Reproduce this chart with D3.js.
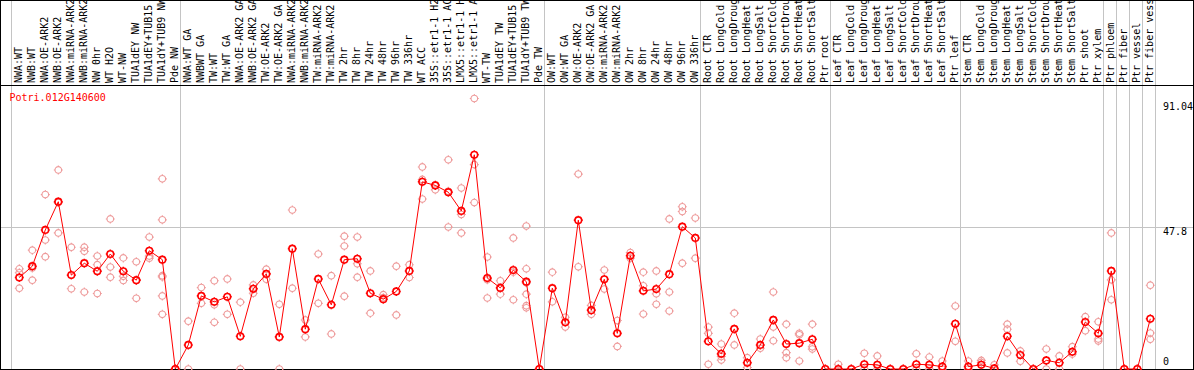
<!DOCTYPE html>
<html>
<head>
<meta charset="utf-8">
<script src="https://cdn.jsdelivr.net/npm/d3@7"></script>
<style>
  body { margin: 0; background: #fff; }
  svg { display: block; }
  text { font-family: "DejaVu Sans Mono", "Liberation Mono", monospace; font-size: 10px; }
</style>
</head>
<body>
<svg id="chart"></svg>
<script>
const geneId = "Potri.012G140600";

const labels = [
  "NWA:WT", "NWB:WT", "NWA:OE-ARK2", "NWB:OE-ARK2", "NWA:miRNA-ARK2", "NWB:miRNA-ARK2",
  "NW 0hr", "WT H2O", "WT-NW", "TUA1dEY NW", "TUA1dEY+TUB15 NW", "TUA1dY+TUB9 NW", "Pde NW",
  "NWA:WT GA", "NWBWT GA", "TW:WT", "TW:WT GA", "NWA:OE-ARK2 GA", "NWB:OE-ARK2 GA",
  "TW:OE-ARK2", "TW:OE-ARK2 GA", "NWA:miRNA-ARK2", "NWB:miRNA-ARK2", "TW:miRNA-ARK2",
  "TW:miRNA-ARK2", "TW 2hr", "TW 8hr", "TW 24hr", "TW 48hr", "TW 96hr", "TW 336hr", "WT ACC",
  "35S::etr1-1 H2O", "35S::etr1-1 ACC", "LMX5::etr1-1 H2O", "LMX5::etr1-1 ACC", "WT-TW",
  "TUA1dEY TW", "TUA1dEY+TUB15 TW", "TUA1dY+TUB9 TW", "Pde TW",
  "OW:WT", "OW:WT GA", "OW:OE-ARK2", "OW:OE-ARK2 GA", "OW:miRNA-ARK2", "OW:miRNA-ARK2",
  "OW 2hr", "OW 8hr", "OW 24hr", "OW 48hr", "OW 96hr", "OW 336hr",
  "Root CTR", "Root LongCold", "Root LongDrought", "Root LongHeat", "Root LongSalt",
  "Root ShortCold", "Root ShortDrought", "Root ShortHeat", "Root ShortSalt", "Ptr root",
  "Leaf CTR", "Leaf LongCold", "Leaf LongDrought", "Leaf LongHeat", "Leaf LongSalt",
  "Leaf ShortCold", "Leaf ShortDrought", "Leaf ShortHeat", "Leaf ShortSalt", "Ptr leaf",
  "Stem CTR", "Stem LongCold", "Stem LongDrought", "Stem LongHeat", "Stem LongSalt",
  "Stem ShortCold", "Stem ShortDrought", "Stem ShortHeat", "Stem ShortSalt", "Ptr shoot",
  "Ptr xylem", "Ptr phloem", "Ptr fiber", "Ptr vessel", "Ptr fiber vessel"
];

// column indices where a separator line is drawn (left edge of the column)
const separators = [0, 13, 41, 53, 63, 73, 84, 85, 86, 87, 88];

const means = [
  30.8, 34.6, 46.8, 56.3, 31.6, 35.6, 32.9, 38.7, 32.9, 29.9, 39.8, 36.8, 0,
  8.1, 24.6, 22.6, 24.3, 11.0, 27.0, 32.0, 10.8, 40.5, 13.4, 30.3, 21.6, 36.8, 37.1,
  25.5, 23.5, 26.1, 33.0, 63.0, 61.8, 59.5, 53.2, 72.1, 30.6, 27.3, 33.3, 29.4, 0,
  27.2, 15.7, 50.1, 19.8, 30.2, 12.0, 38.1, 26.3, 26.9, 31.9, 47.9, 44.1,
  9.3, 5.1, 13.5, 2.1, 8.1, 16.5, 8.4, 8.7, 10.0, 0,
  0, 0, 1.6, 1.4, 0, 0, 1.6, 1.4, 0.8, 15.2,
  0.8, 1.4, 0.2, 11.0, 4.7, 0, 2.9, 2.1, 5.8, 15.8, 12.0, 33.0, 0, 0, 16.9
];

const replicates = [
  [33.7, 32.4, 27.2], [40.0, 34.0, 29.9], [58.7, 43.4, 37.8], [67.0, 56.0, 45.8],
  [41.0, 27.0], [41.0, 39.6, 25.9], [38.0, 35.1, 33.0, 25.4], [50.5, 34.3, 30.9],
  [37.4, 31.2, 29.8], [36.1, 29.9, 23.8], [44.4, 38.0, 37.3],
  [64.0, 50.2, 31.4, 31.0, 24.6, 18.4], [0, 0],
  [16.1, 0], [27.4, 22.1], [29.7, 21.6, 15.7], [30.3, 18.4], [22.5, 0], [28.3, 25.5],
  [33.6, 30.2], [21.8, 0], [53.5, 27.2], [16.5, 10.8], [38.7, 22.1], [31.4, 11.8],
  [44.7, 41.4, 24.5], [44.4, 35.4, 30.9], [33.0, 18.8], [25.0, 24.0], [34.6, 18.2],
  [35.1, 30.8], [68.0, 63.8, 57.2], [62.0, 60.3], [70.4, 59.8, 47.8], [60.9, 52.0, 45.8],
  [91.04, 68.8, 56.0], [37.7, 30.0, 23.9], [29.7, 25.2], [44.1, 32.6, 23.3],
  [48.1, 33.7, 29.0, 25.2, 21.3, 20.6], [0],
  [32.6, 22.6], [17.4, 14.1], [65.6, 34.4], [21.4, 18.4], [33.3, 26.9], [16.3, 7.6],
  [39.2, 37.3], [32.6, 28.0, 18.5], [33.0, 25.3, 21.8], [50.5, 25.9, 19.5],
  [54.6, 53.0, 35.6], [50.8, 37.3],
  [14.1, 12.0, 1.6], [8.4, 4.2, 3.0], [18.8, 8.1], [3.8, 0.5], [10.1, 7.0],
  [25.9, 14.1, 9.5], [15.1, 5.5, 3.8], [12.0, 11.5, 2.7], [15.1, 7.5, 6.7], [0],
  [1.6, 0], [0], [5.3, 0], [4.4, 0], [0], [0], [5.1, 0], [4.0, 0], [2.7, 0], [21.2, 9.3],
  [2.7, 0], [2.9, 2.2], [1.4], [15.1, 13.4, 5.4], [6.1, 2.6], [0], [6.7, 0], [4.4, 0],
  [7.5, 5.0], [17.6, 12.9], [15.9, 10.1, 9.4], [45.8, 30.0, 23.3], [0], [0], [28.2, 12.1, 10.0]
];

const yTicks = [91.04, 47.8, 0];
const gridValues = [47.8];

const width = 1194, height = 370;
const headerH = 85.5;
const colStep = 13;

const svg = d3.select("#chart").attr("width", width).attr("height", height);

const x = d3.scaleLinear().domain([0, labels.length - 1]).range([19.3, 19.3 + colStep * (labels.length - 1)]);
const y = d3.scaleLinear().domain([0, 91.04]).range([369, 98.5]);

// circle with four small ticks, like the original markers
const marker = (r, t) =>
  d3.path().toString() +
  `M${r},0A${r},${r} 0 1,1 ${-r},0A${r},${r} 0 1,1 ${r},0` +
  `M0,${-r}V${-r - t}M0,${r}V${r + t}M${-r},0H${-r - t}M${r},0H${r + t}`;

// separators
svg.append("g")
  .selectAll("line")
  .data(separators)
  .enter()
  .append("line")
  .attr("x1", (d) => Math.round(x(d) - 8.6) + 0.5)
  .attr("x2", (d) => Math.round(x(d) - 8.6) + 0.5)
  .attr("y1", 0)
  .attr("y2", height)
  .attr("stroke", "#c4c4c4")
  .attr("stroke-width", 1);

// horizontal grid
svg.append("g")
  .selectAll("line")
  .data(gridValues)
  .enter()
  .append("line")
  .attr("x1", 0)
  .attr("x2", width)
  .attr("y1", (d) => Math.round(y(d)) + 0.5)
  .attr("y2", (d) => Math.round(y(d)) + 0.5)
  .attr("stroke", "#c4c4c4");

// column labels
svg.append("g")
  .selectAll("text")
  .data(labels)
  .enter()
  .append("text")
  .attr("transform", (d, i) => `translate(${x(i) + 2.6},83) rotate(-90)`)
  .attr("fill", "#000")
  .text((d) => d);

// frame + header line
svg.append("rect")
  .attr("x", 0.5).attr("y", 0.5)
  .attr("width", width - 1).attr("height", height - 1)
  .attr("fill", "none").attr("stroke", "#000");
svg.append("line")
  .attr("x1", 0).attr("x2", width)
  .attr("y1", headerH).attr("y2", headerH)
  .attr("stroke", "#000");

// right axis labels
svg.append("g")
  .selectAll("text")
  .data(yTicks)
  .enter()
  .append("text")
  .attr("x", 1163)
  .attr("y", (d) => (d === 0 ? y(d) - 4 : y(d) + (d === 47.8 ? 8 : 11)))
  .attr("fill", "#000")
  .text((d) => d);

// title
svg.append("text")
  .attr("x", 9.5)
  .attr("y", 101)
  .attr("fill", "#f00")
  .text(geneId);

// replicate points
const repPoints = [];
replicates.forEach((vals, i) => vals.forEach((v) => repPoints.push({ i, v })));

svg.append("g")
  .selectAll("path")
  .data(repPoints)
  .enter()
  .append("path")
  .attr("transform", (d) => `translate(${x(d.i)},${y(d.v)})`)
  .attr("d", marker(3.3, 1.2))
  .attr("fill", "none")
  .attr("stroke", "#ee9a9a")
  .attr("stroke-width", 1.1);

// mean line
svg.append("path")
  .datum(means)
  .attr("d", d3.line().x((d, i) => x(i)).y((d) => y(d)))
  .attr("fill", "none")
  .attr("stroke", "#f00")
  .attr("stroke-width", 1);

// mean points
svg.append("g")
  .selectAll("path")
  .data(means)
  .enter()
  .append("path")
  .attr("transform", (d, i) => `translate(${x(i)},${y(d)})`)
  .attr("d", marker(3.3, 1.2))
  .attr("fill", "none")
  .attr("stroke", "#f00")
  .attr("stroke-width", 1.6);
</script>
</body>
</html>
